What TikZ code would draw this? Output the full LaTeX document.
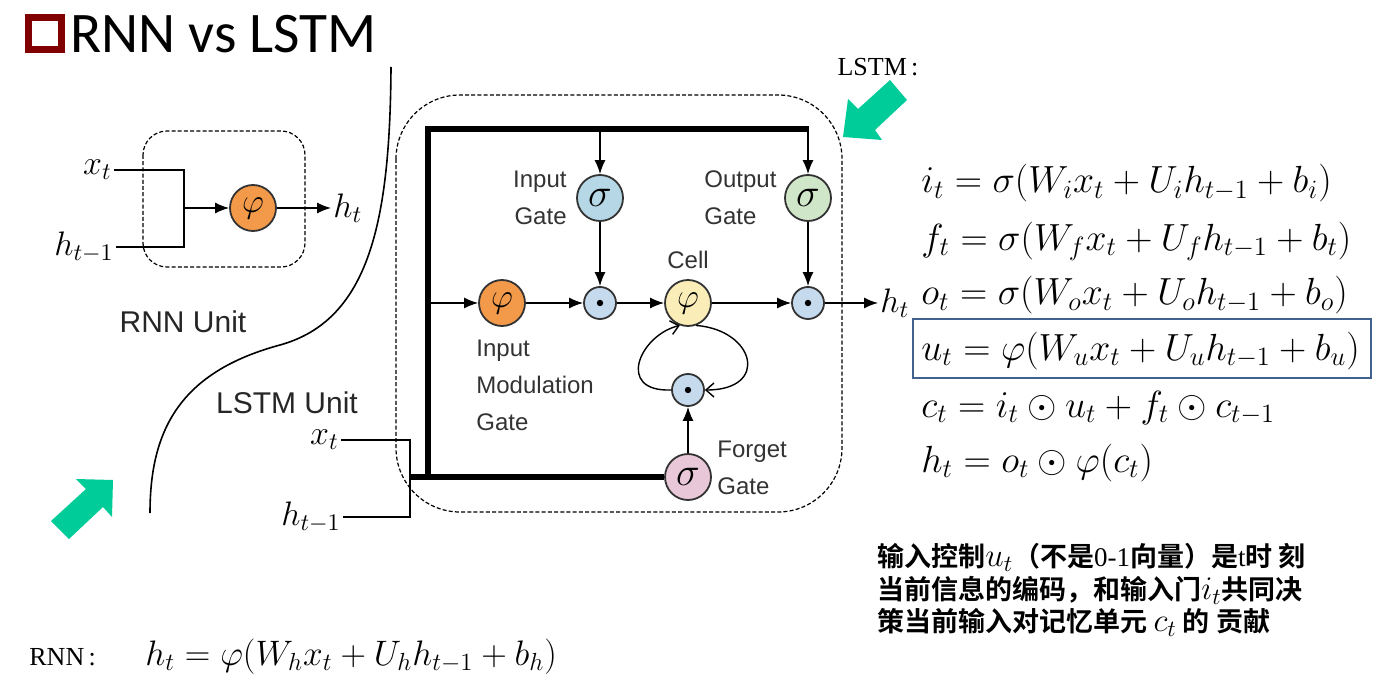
\RequirePackage{fix-cm}
\documentclass[tikz,border=0pt]{standalone}
\usepackage{fontspec}
\usepackage{xcolor}
\usepackage{tikz}
\usetikzlibrary{arrows.meta}
\setsansfont{Liberation Sans}
\newfontfamily\titlefont{Carlito}
\newfontfamily\tnrfont{Liberation Serif}
\newfontfamily\cjkfont{Noto Sans CJK SC Bold}
\newcommand\notemath[1]{{\fontsize{16.5}{16.5}\selectfont$#1$}}
\definecolor{tred}{HTML}{800000}
\definecolor{kgreen}{HTML}{00CC99}
\definecolor{eqblue}{HTML}{41628F}
\definecolor{phiorange}{HTML}{F29A4A}
\definecolor{inblue}{HTML}{B6D7E6}
\definecolor{outgreen}{HTML}{D0E6C9}
\definecolor{mulblue}{HTML}{C6DAEE}
\definecolor{cellyellow}{HTML}{FBEDB8}
\definecolor{fgpink}{HTML}{E8C8D8}

\begin{document}
\begin{tikzpicture}[x=0.5pt, y=-0.5pt,
  unit/.style={circle, draw=black!80, line width=0.9pt, inner sep=0pt, minimum size=23pt},
  mult/.style={circle, draw=black!80, line width=0.9pt, inner sep=0pt, minimum size=16pt, fill=mulblue,
    path picture={\fill[black] (path picture bounding box.center) circle (1.6pt);}},
  lbl/.style={font=\fontsize{12}{18.5}\selectfont\sffamily, text=black!80, inner sep=0pt},
  wire/.style={line width=0.7pt},
  arr/.style={line width=0.7pt, -{Latex[length=7pt,width=5.5pt]}},
  bus/.style={line width=2.6pt},
  box/.style={line width=0.6pt, dash pattern=on 2pt off 1.1pt},
  mathlbl/.style={font=\fontsize{17}{19}\selectfont, inner sep=1pt},
  phitxt/.style={font=\fontsize{17}{17}\selectfont},
  sigtxt/.style={font=\fontsize{20}{20}\selectfont},
  eqn/.style={font=\fontsize{18.9}{22}\selectfont, anchor=base west, inner sep=0pt}]

\useasboundingbox (0,0) rectangle (1386,684);

% title
\draw[tred, line width=3.5pt] (28.5,17.5) rectangle (61.5,49.5);
\node[font={\titlefont\fontsize{28.7}{30}\selectfont}, anchor=base west, inner sep=0pt] (title) at (70,53) {RNN vs LSTM};

% dividing curve
\draw[line width=0.8pt] (391,67) .. controls (390,220) and (370,320) .. (280,345)
  .. controls (180,372) and (150,430) .. (150,513);

% RNN unit
\draw[box, rounded corners=12pt] (143,131) rectangle (305,267);
\node[unit, fill=phiorange, phitxt] (rnnphi) at (253,208) {$\varphi$};
\node[mathlbl, anchor=east] (rnnx) at (114,170) {$x_t$};
\node[mathlbl, anchor=east] (rnnh) at (116,247) {$h_{t-1}$};
\coordinate (rnnjoin) at (184,208);
\draw[wire] (rnnx.east) -| (rnnjoin) |- (rnnh.east);
\draw[arr] (rnnjoin) -- (rnnphi);
\node[mathlbl, anchor=west] (rnnout) at (331,208) {$h_t$};
\draw[arr] (rnnphi) -- (rnnout);
\node[font=\fontsize{15}{17}\selectfont\sffamily, text=black!85] (rnnunit) at (183,322) {RNN Unit};
\node[font=\fontsize{15}{17}\selectfont\sffamily, text=black!85] (lstmunit) at (287,403) {LSTM Unit};

% LSTM unit
\draw[box, rounded corners=32pt] (396,95) rectangle (842,512);
\node[unit, fill=phiorange, phitxt] (modgate) at (502,303) {$\varphi$};
\node[mult] (inmult) at (600,303) {};
\node[unit, fill=cellyellow, phitxt] (cell) at (688,303) {$\varphi$};
\node[mult] (outmult) at (808,303) {};
\node[unit, fill=inblue, sigtxt] (ingate) at (600,198) {$\sigma$};
\node[unit, fill=outgreen, sigtxt] (outgate) at (808,198) {$\sigma$};
\node[mult] (fgmult) at (688,390) {};
\node[unit, fill=fgpink, sigtxt] (fggate) at (688,477) {$\sigma$};

\node[lbl, align=right, anchor=east] (inlbl) at (567,198) {Input\\Gate};
\node[lbl, align=left, anchor=west] (outlbl) at (704,198) {Output\\Gate};
\node[lbl, align=left, anchor=west] (modlbl) at (476,385) {Input\\Modulation\\Gate};
\node[lbl, align=left, anchor=west] (fglbl) at (717,468) {Forget\\Gate};
\node[lbl] (celllbl) at (688,260) {Cell};

\node[mathlbl, anchor=east] (lstmx) at (341,440) {$x_t$};
\node[mathlbl, anchor=east] (lstmh) at (343,517) {$h_{t-1}$};
\coordinate (lstmjoin) at (410,477);
\draw[wire] (lstmx.east) -| (lstmjoin) |- (lstmh.east);

\coordinate (tapmod) at (428,303);
\coordinate (tapin) at (600,129);
\coordinate (tapout) at (808,129);
\draw[bus, line join=miter] (fggate.west) -- (lstmjoin);
\draw[bus, line join=miter] (428,477) |- ([xshift=0.65pt]tapout);

\draw[arr] (tapmod) -- (modgate);
\draw[arr] (tapin) -- (ingate);
\draw[arr] (tapout) -- (outgate);
\draw[arr] (modgate) -- (inmult);
\draw[arr] (ingate) -- (inmult);
\draw[arr] (inmult) -- (cell);
\draw[arr] (cell) -- (outmult);
\draw[arr] (outgate) -- (outmult);
\draw[arr] (fggate) -- (fgmult);
\node[mathlbl, anchor=west] (lstmout) at (878,303) {$h_t$};
\draw[arr] (outmult) -- (lstmout);

\draw[wire, -{Straight Barb[length=4pt,width=7pt]}] (fgmult.west)
  .. controls (615,392) and (640,335) .. (cell.250);
\draw[wire, -{Straight Barb[length=4pt,width=7pt]}] (cell.290)
  .. controls (755,330) and (770,390) .. (fgmult.east);

% green pointers
\fill[kgreen] (113,480) -- (76,479) -- (86,489) -- (51,521) -- (69,539) -- (103,507) -- (112,517) -- cycle;
\fill[kgreen] (843,137) -- (848,99) -- (858,109) -- (890,80) -- (907,100) -- (875,130) -- (882,140) -- cycle;
\node[font={\tnrfont\fontsize{13}{15}\selectfont}] (lstmtag) at (878,67) {LSTM\,:};

% equations
\node[eqn] (eqi) at (921,193) {$i_t = \sigma(W_i x_t + U_i h_{t-1} + b_i)$};
\node[eqn] (eqf) at (921,250) {$f_t = \sigma(W_f x_t + U_f h_{t-1} + b_t)$};
\node[eqn] (eqo) at (921,305) {$o_t = \sigma(W_o x_t + U_o h_{t-1} + b_o)$};
\node[eqn] (equ) at (921,360) {$u_t = \varphi(W_u x_t + U_u h_{t-1} + b_u)$};
\node[eqn] (eqc) at (921,417) {$c_t = i_t \odot u_t + f_t \odot c_{t-1}$};
\node[eqn] (eqh) at (921,472) {$h_t = o_t \odot \varphi(c_t)$};
\draw[eqblue, line width=1.2pt] (913,319) rectangle (1371,378);

\node[font={\cjkfont\fontsize{13.5}{16.3}\selectfont}, align=left, anchor=west, inner sep=0pt] (note) at (877,590)
  {输入控制\notemath{u_t}（不是{\tnrfont 0-1}向量）是{\tnrfont t}时 刻\\
   当前信息的编码，和输入门\notemath{i_t}共同决\\
   策当前输入对记忆单元 \notemath{c_t} 的 贡献};

% RNN formula
\node[font={\tnrfont\fontsize{13}{15}\selectfont}, anchor=west, inner sep=0pt] (rnntag) at (29,657) {RNN\,:};
\node[eqn, font=\fontsize{17.7}{20}\selectfont] (eqrnn) at (145,665) {$h_t = \varphi(W_h x_t + U_h h_{t-1} + b_h)$};
\end{tikzpicture}
\end{document}
